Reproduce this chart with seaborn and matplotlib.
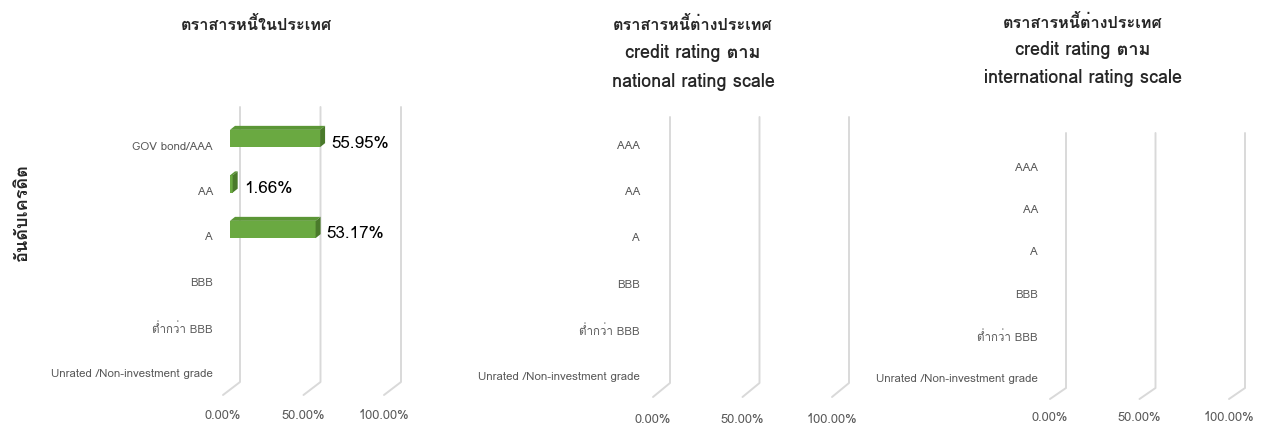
import matplotlib
matplotlib.use("Agg")
import numpy as np
import pandas as pd
import seaborn as sns
import matplotlib.pyplot as plt
from matplotlib.transforms import ScaledTranslation, IdentityTransform
from matplotlib.patches import Polygon
from matplotlib.lines import Line2D

# ---------------- data ----------------
categories_domestic = ["GOV bond/AAA", "AA", "A", "BBB", "ต่ำกว่า BBB",
                       "Unrated /Non-investment grade"]
categories_foreign = ["AAA", "AA", "A", "BBB", "ต่ำกว่า BBB",
                      "Unrated /Non-investment grade"]
values_domestic = [55.95, 1.66, 53.17, 0.0, 0.0, 0.0]
values_national = [0.0, 0.0, 0.0, 0.0, 0.0, 0.0]
values_international = [0.0, 0.0, 0.0, 0.0, 0.0, 0.0]
title_domestic = ["ตราสารหนี้ในประเทศ"]
title_national = ["ตราสารหนี้ต่างประเทศ", "credit rating ตาม", "national rating scale"]
title_international = ["ตราสารหนี้ต่างประเทศ", "credit rating ตาม", "international rating scale"]
x_ticks = [0, 50, 100]
x_tick_labels = ["0.00%", "50.00%", "100.00%"]
y_axis_title = "อันดับเครดิต"

# ---------------- style ----------------
W, H = 1265, 426
sns.set_theme(style="white")
plt.rcParams["font.family"] = ["Loma", "DejaVu Sans"]

FRONT = "#6aa941"
TOP = "#5b9636"
SIDE = "#4a7a2b"
GRID = "#d9d9d9"
LABEL = "#595959"
TITLE = "#262626"

fig = plt.figure(figsize=(W / 100, H / 100), dpi=100)
fig.patch.set_facecolor("white")


def fig_frac(px, py):
    return px / W, 1 - py / H


def panel(cats, vals, x0, sc, yc0, step, lab_right, gtop, gbot, ddx, ddy,
          xlab_y, tcx, tys, title_lines, title_sizes, show_values):
    top_px = yc0 - step / 2
    height = 6 * step
    ax = fig.add_axes([x0 / W, 1 - (top_px + height) / H, sc / W, height / H])
    df = pd.DataFrame({"cat": cats, "val": vals})
    sns.barplot(data=df, x="val", y="cat", orient="h", color=FRONT,
                saturation=1, width=0.38, ax=ax, zorder=2, linewidth=0)
    ax.set_xlim(0, 100)
    ax.set_ylim(5.5, -0.5)
    for s in ax.spines.values():
        s.set_visible(False)
    ax.set_xlabel("")
    ax.set_ylabel("")
    ax.set_facecolor("none")

    # y tick labels (shifted slightly down, as in the 3-D projection)
    ax.set_yticks(range(len(cats)))
    ax.set_yticklabels(cats, fontsize=8.3, color=LABEL)
    ax.tick_params(axis="y", length=0, pad=(x0 - lab_right) * 0.72)
    shift_y = ScaledTranslation(0, -0.07, fig.dpi_scale_trans)
    for lab in ax.get_yticklabels():
        lab.set_transform(lab.get_transform() + shift_y)

    # x tick labels (under the front edge of the floor)
    ax.set_xticks(x_ticks)
    ax.set_xticklabels(x_tick_labels, fontsize=9.3, color=LABEL)
    bottom_px = top_px + height
    ax.tick_params(axis="x", length=0, pad=(xlab_y - bottom_px - 6) * 0.72)
    shift_x = ScaledTranslation((10 + ddx) / 100, 0, fig.dpi_scale_trans)
    for lab in ax.get_xticklabels():
        lab.set_transform(lab.get_transform() + shift_x)

    # 3-D style gridlines: back wall vertical, floor diagonal
    for v in x_ticks:
        xb = ax.transData.transform((v, 0))[0] + 10
        xs = [xb, xb, xb + ddx]
        ys = [H - gtop, H - gbot, H - gbot - ddy]
        ax.add_line(Line2D(xs, ys, transform=IdentityTransform(), color=GRID,
                           lw=1.4, clip_on=False, zorder=0.5))

    # depth faces for bars
    dx, dy = 5, 4
    for p in ax.patches:
        w = p.get_width()
        if w <= 0:
            continue
        (xa, ya), (xb_, yb) = ax.transData.transform(
            [(p.get_x(), p.get_y()), (p.get_x() + w, p.get_y() + p.get_height())])
        ytop = max(ya, yb)
        ybot = min(ya, yb)
        top = [(xa, ytop), (xb_, ytop), (xb_ + dx, ytop + dy), (xa + dx, ytop + dy)]
        side = [(xb_, ytop), (xb_ + dx, ytop + dy), (xb_ + dx, ybot + dy), (xb_, ybot)]
        ax.add_patch(Polygon(top, closed=True, transform=IdentityTransform(),
                             facecolor=TOP, edgecolor="none", zorder=2, clip_on=False))
        ax.add_patch(Polygon(side, closed=True, transform=IdentityTransform(),
                             facecolor=SIDE, edgecolor="none", zorder=2, clip_on=False))

    if show_values:
        for i, v in enumerate(vals):
            if v > 0:
                ax.annotate(f"{v:.2f}%", xy=(v, i), xytext=(11, -5),
                            textcoords="offset pixels", ha="left", va="center",
                            fontsize=12.3, color="#000000",
                            annotation_clip=False)

    for line, ty, fs in zip(title_lines, tys, title_sizes):
        fx, fy = fig_frac(tcx, ty)
        fig.text(fx, fy, line, ha="center", va="center", fontsize=fs,
                 fontweight="bold", color=TITLE)
    return ax


panel(categories_domestic, values_domestic, 230, 161, 138.5, 45.5, 213,
      107, 382, -17, 13, 415, 257, [25], title_domestic, [11.7], True)
panel(categories_foreign, values_national, 660, 179, 138, 46.2, 640,
      117, 383, -17, 14, 419, 693, [25, 53, 82], title_national,
      [11.7, 13, 13], False)
panel(categories_foreign, values_international, 1056, 179, 160, 42.2, 1038,
      133, 388, -16, 11, 417, 1083, [22, 50, 78], title_international,
      [11.7, 13, 13], False)

fx, fy = fig_frac(22, 212)
fig.text(fx, fy, y_axis_title, rotation=90, ha="center", va="center",
         fontsize=13, fontweight="bold", color=TITLE)

fig.savefig("out.png", dpi=100, facecolor="white")
